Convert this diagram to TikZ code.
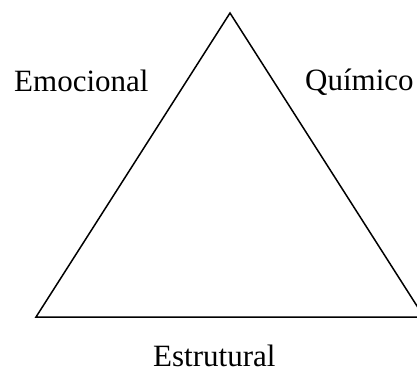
\documentclass[tikz,border=0pt]{standalone}
\usepackage{fontspec}
\setmainfont{Liberation Serif}
\begin{document}
\begin{tikzpicture}[x=1pt,y=-1pt,
  lbl/.style={anchor=base west,inner sep=0pt,font=\fontsize{31}{36}\selectfont},
  edge/.style={draw=black,line width=1.5pt,line join=miter}]
\useasboundingbox (0,0) rectangle (417,369);
\coordinate (apex) at (230,13);
\coordinate (bl) at (36,317);
\coordinate (br) at (424,317);
\draw[edge] (apex) -- (bl) -- (br) -- cycle;
\node[lbl] (emo) at (14,91) {Emocional};
\node[lbl] (qui) at (305,90) {Químico};
\node[lbl] (est) at (153,366.5) {Estrutural};
\end{tikzpicture}
\end{document}
